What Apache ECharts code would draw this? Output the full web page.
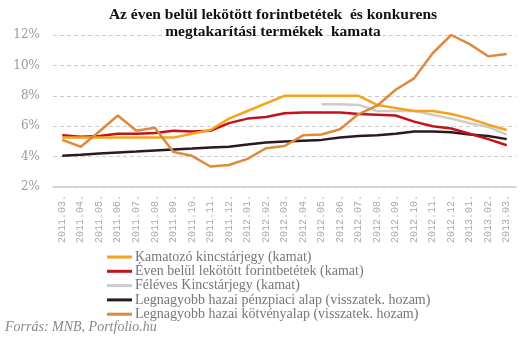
<!DOCTYPE html>
<html><head><meta charset="utf-8">
<script src="https://cdn.jsdelivr.net/npm/echarts@6/dist/echarts.min.js"></script>
<style>html,body{margin:0;padding:0;background:#fff}#c{width:531px;height:342px}</style>
</head><body><div id="c"></div>
<script>
const categories = ['2011.03.','2011.04.','2011.05.','2011.06.','2011.07.','2011.08.','2011.09.','2011.10.','2011.11.','2011.12.','2012.01.','2012.02.','2012.03.','2012.04.','2012.05.','2012.06.','2012.07.','2012.08.','2012.09.','2012.10.','2012.11.','2012.12.','2013.01.','2013.02.','2013.03.'];
const kamatozo = [5.25,5.25,5.25,5.25,5.25,5.25,5.25,5.5,5.75,6.5,7.0,7.5,8.0,8.0,8.0,8.0,8.0,7.4,7.2,7.0,7.0,6.8,6.5,6.1,5.75];
const betet = [5.4,5.3,5.35,5.5,5.5,5.55,5.7,5.65,5.7,6.2,6.5,6.6,6.85,6.9,6.9,6.9,6.8,6.75,6.7,6.3,6.0,5.85,5.5,5.15,4.75];
const feleves = [null,null,null,null,null,null,null,null,null,null,null,null,null,null,7.45,7.45,7.4,7.0,7.0,7.0,6.75,6.5,6.2,5.95,5.45];
const penzpiaci = [4.05,4.12,4.2,4.27,4.33,4.4,4.47,4.53,4.6,4.65,4.8,4.93,5.0,5.05,5.1,5.25,5.35,5.4,5.5,5.65,5.65,5.6,5.45,5.35,5.15];
const kotveny = [5.1,4.65,5.65,6.7,5.7,5.9,4.3,4.05,3.35,3.45,3.85,4.55,4.7,5.4,5.45,5.8,6.8,7.35,8.4,9.15,10.8,12.0,11.4,10.6,10.75];
const names = ['Kamatozó kincstárjegy (kamat)','Éven belül lekötött forintbetétek (kamat)','Féléves Kincstárjegy (kamat)','Legnagyobb hazai pénzpiaci alap (visszatek. hozam)','Legnagyobb hazai kötvényalap (visszatek. hozam)'];
const colors = ['#F7A21B','#C4111B','#CCCCCC','#2A1A1E','#DC8A3E'];
const yTicks = [2,4,6,8,10,12];

const chart = echarts.init(document.getElementById('c'));
const mk = (name, data, color, z) => ({name, type:'line', data, symbol:'none', z,
  lineStyle:{color, width:2.5}, itemStyle:{color}, connectNulls:false});
chart.setOption({
  animation:false,
  title:{text:'Az éven belül lekötött forintbetétek  és konkurens\nmegtakarítási termékek  kamata', left:268, textAlign:'center', top:1,
    textStyle:{fontFamily:'Liberation Serif', fontWeight:'bold', fontSize:15.5, lineHeight:17, color:'#111'}},
  grid:{left:53, right:15, top:35, bottom:155},
  xAxis:{type:'category', data:categories, boundaryGap:true,
    axisLine:{lineStyle:{color:'#cccccc', width:1.5}}, axisTick:{show:false},
    axisLabel:{rotate:90, interval:0, fontFamily:'Liberation Mono', fontSize:10, color:'#aaa', margin:8}},
  yAxis:{type:'value', min:2, max:12, interval:2,
    axisLine:{show:false}, axisTick:{show:false},
    splitLine:{lineStyle:{color:'#cccccc', type:[4,3]}},
    axisLabel:{formatter:v=>yTicks.includes(v)?v+'%':'', fontFamily:'DejaVu Serif', fontSize:12, color:'#999', margin:13}},
  legend:{orient:'vertical', left:102, top:245, itemWidth:25, itemHeight:3, itemGap:0.3, icon:'rect',
    data:names, textStyle:{fontFamily:'Liberation Serif', fontSize:14, color:'#777', lineHeight:14, padding:[0,0,0,-2]}},
  graphic:[{type:'text', left:5, top:320, style:{text:'Forrás: MNB, Portfolio.hu', font:'italic 14px "Liberation Serif"', fill:'#888'}}],
  series:[
    mk(names[0], kamatozo, colors[0], 5),
    mk(names[1], betet, colors[1], 4),
    mk(names[2], feleves, colors[2], 3),
    mk(names[3], penzpiaci, colors[3], 2),
    mk(names[4], kotveny, colors[4], 6)
  ]
});
</script></body></html>
